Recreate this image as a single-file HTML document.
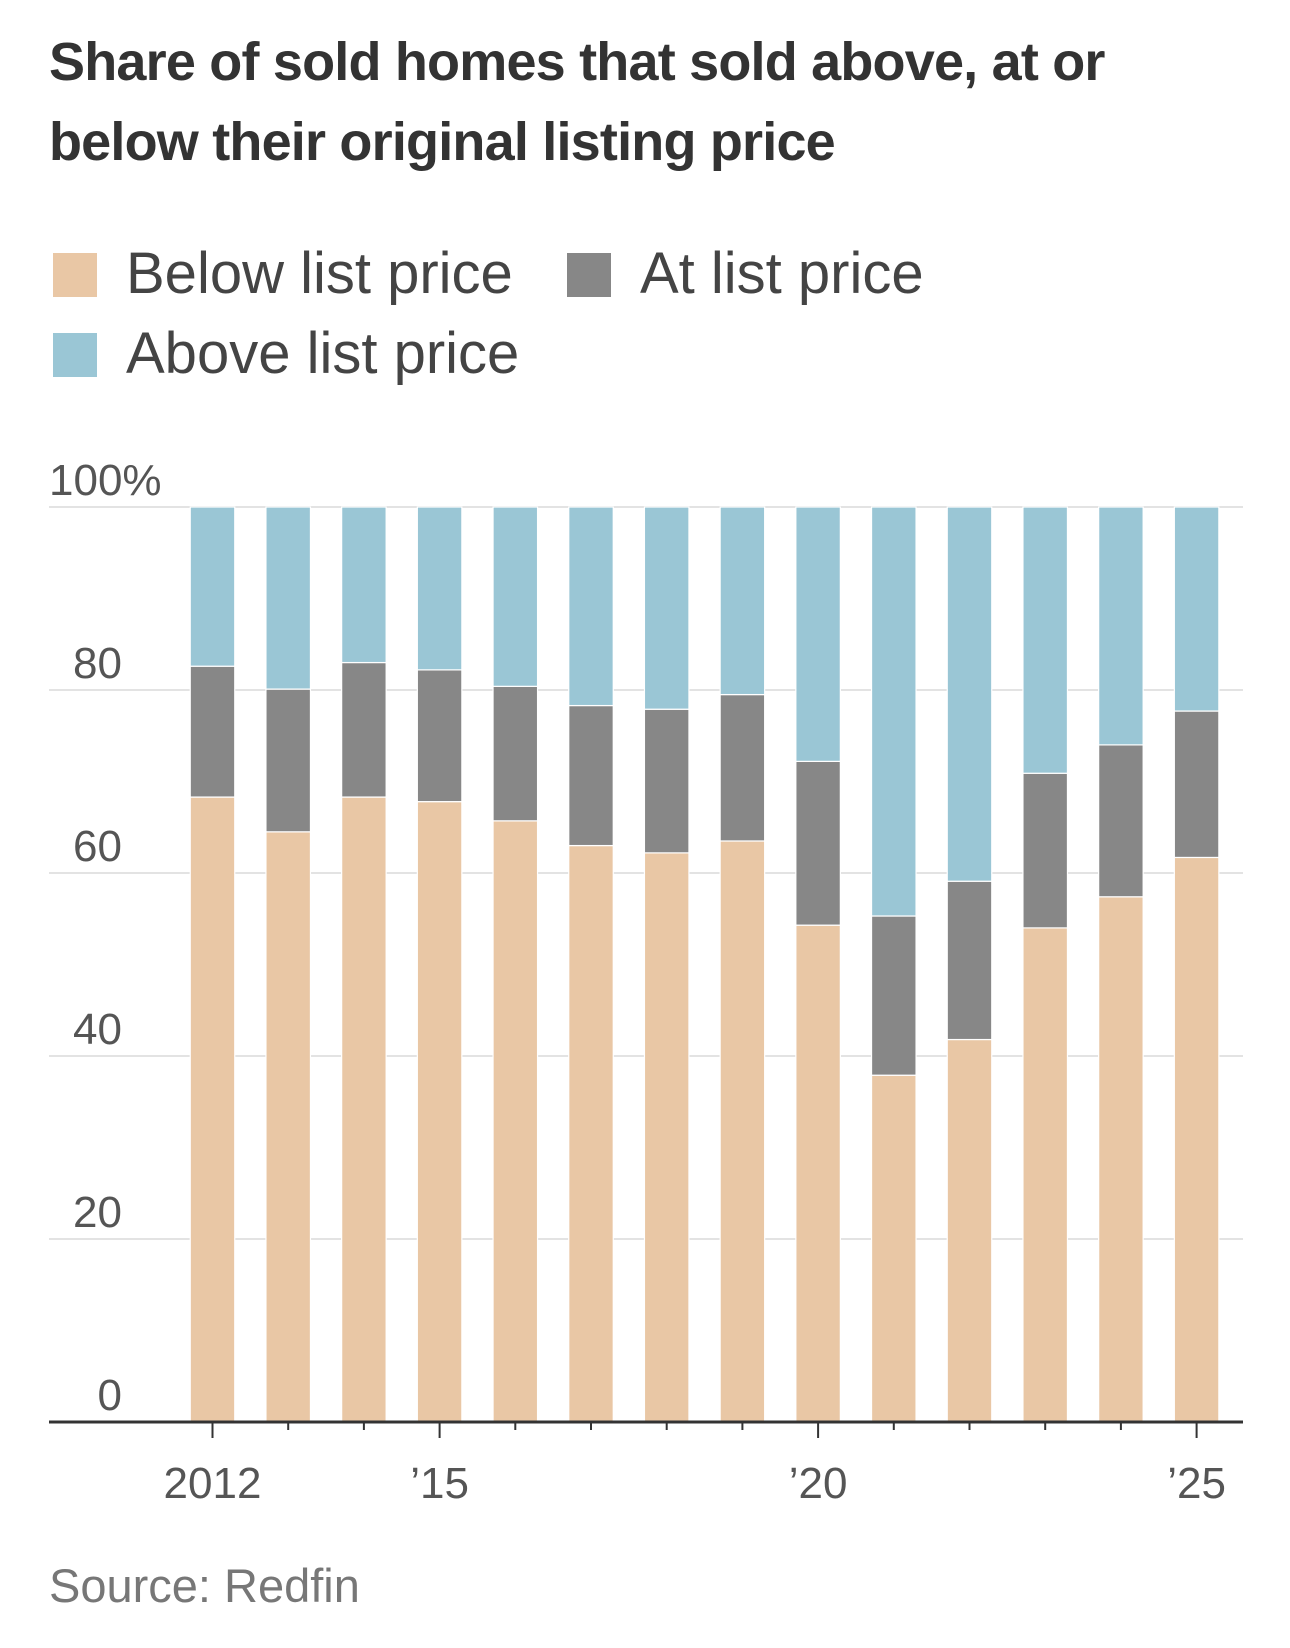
<!DOCTYPE html>
<html><head><meta charset="utf-8"><style>
body{margin:0;background:#fff;width:1290px;height:1648px;overflow:hidden;font-family:"Liberation Sans",sans-serif}
.t{position:absolute;left:49px;font-weight:bold;font-size:54px;color:#333;letter-spacing:-0.8px}
.lg{position:absolute;font-size:58px;color:#444}
.sq{position:absolute;width:44px;height:44px}
</style></head><body>
<div class="t" style="top:22px;line-height:80px">Share of sold homes that sold above, at or<br>below their original listing price</div>
<div>
<div class="sq" style="left:53px;top:253px;background:#e9c7a5"></div>
<div class="lg" style="left:126px;top:240px">Below list price</div>
<div class="sq" style="left:567px;top:253px;background:#878787"></div>
<div class="lg" style="left:640px;top:240px">At list price</div>
<div class="sq" style="left:53px;top:333px;background:#9ac6d5"></div>
<div class="lg" style="left:126px;top:320px">Above list price</div>
</div>
<svg id="chart" width="1290" height="1648" style="position:absolute;left:0;top:0;font-family:'Liberation Sans',sans-serif"></svg>
<div style="position:absolute;left:49px;top:1558px;font-size:47px;color:#777">Source: Redfin</div>
<script>
const years=[2012,2013,2014,2015,2016,2017,2018,2019,2020,2021,2022,2023,2024,2025];
const below=[68.3,64.5,68.3,67.8,65.7,63.0,62.2,63.5,54.3,37.9,41.8,54.0,57.4,61.7];
const atList=[14.3,15.6,14.7,14.4,14.7,15.3,15.7,16.0,17.9,17.4,17.3,16.9,16.6,16.0];
const yTicks=[0,20,40,60,80,100];
const xLabels={2012:"2012",2015:"\u201915",2020:"\u201920",2025:"\u201925"};
const NS="http://www.w3.org/2000/svg";
const svg=document.getElementById('chart');
const y0=1422,y100=507,L=49,R=1243;
const y=v=>y0-(y0-y100)*v/100;
const xc=i=>212.5+i*75.7;
const bw=44.5;
function mk(t,a){const e=document.createElementNS(NS,t);for(const k in a)e.setAttribute(k,a[k]);svg.appendChild(e);return e;}
yTicks.forEach(v=>{
  if(v>0){const g=mk('line',{x1:L,x2:R,y1:y(v),y2:y(v),stroke:'#e3e3e3','stroke-width':2});
  
  }
  const t=mk('text',{x:v==100?L:122,y:y(v)-12,'font-size':44,fill:'#555','text-anchor':v==100?'start':'end'});
  t.textContent=v==100?'100%':String(v);
  
  
});
years.forEach((yr,i)=>{
  const b=below[i],a=atList[i];
  const segs=[[0,b,'#e9c7a5','below'],[b,b+a,'#878787','at'],[b+a,100,'#9ac6d5','above']];
  segs.forEach(s=>{
    const r=mk('rect',{x:xc(i)-bw/2,y:y(s[1]),width:bw,height:y(s[0])-y(s[1]),fill:s[2],stroke:'#fff','stroke-width':1.2});
    
    
  });
  const major=xLabels[yr]!==undefined;
  const tk=mk('line',{x1:xc(i),x2:xc(i),y1:y0,y2:y0+(major?16:8),stroke:'#333','stroke-width':2});
  
  
  if(major){const t=mk('text',{x:xc(i),y:1498,'font-size':44,fill:'#555','text-anchor':'middle'});
    t.textContent=xLabels[yr];
    
    }
});
const ax=mk('line',{x1:L,x2:R,y1:y0,y2:y0,stroke:'#333','stroke-width':3});


</script>
</body></html>
